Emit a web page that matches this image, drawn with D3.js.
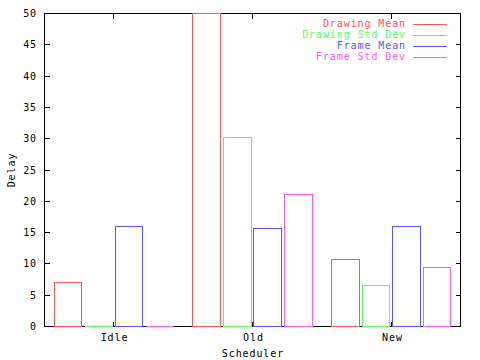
<!DOCTYPE html>
<html><head><meta charset="utf-8">
<script src="https://cdn.jsdelivr.net/npm/d3@7"></script>
<style>
body{margin:0;background:#fff;}
svg text{font-family:"DejaVu Sans Mono",monospace;font-size:10px;letter-spacing:0.9px;}
</style></head>
<body><svg id="c" width="480" height="360"></svg>
<script>
const categories = ["Idle", "Old", "New"];
const seriesNames = ["Drawing Mean", "Drawing Std Dev", "Frame Mean", "Frame Std Dev"];
const seriesColors = ["#ff5555", "#55ff55", "#5555ff", "#ff55ff"];
const drawingMean = [7.0, 50, 10.7];
const drawingStd = [0, 30.2, 6.55];
const frameMean = [16.0, 15.65, 16.0];
const frameStd = [0, 21.1, 9.4];
const yTicks = [0, 5, 10, 15, 20, 25, 30, 35, 40, 45, 50];
const series = [drawingMean, drawingStd, frameMean, frameStd];

const svg = d3.select("#c");
const L = 44, R = 460, T = 13, B = 326;
const x = d3.scaleLinear().domain([-0.5, categories.length - 0.5]).range([L, R]);
const y = d3.scaleLinear().domain([0, 50]).range([B, T]);

const slot = 0.22, bw = 0.2;
const g = svg.append("g").attr("shape-rendering", "crispEdges");

const bl = Math.round(L) + 0.5, br = Math.round(R) + 0.5, bt = Math.round(T) + 0.5, bb = Math.round(B) + 0.5;

// border
g.append("rect").attr("x", bl).attr("y", bt).attr("width", br - bl).attr("height", bb - bt)
  .attr("stroke", "#000").attr("fill", "none");

// y ticks
yTicks.forEach(t => {
  const yy = Math.round(y(t)) + 0.5;
  g.append("line").attr("x1", bl).attr("x2", bl + 5).attr("y1", yy).attr("y2", yy).attr("stroke", "#000");
  g.append("line").attr("x1", br - 5).attr("x2", br).attr("y1", yy).attr("y2", yy).attr("stroke", "#000");
  svg.append("text").attr("x", 37).attr("y", yy + 3.5).attr("text-anchor", "end").text(t);
});

// x ticks
categories.forEach((cat, i) => {
  const xx = Math.round(x(i)) + 0.5;
  g.append("line").attr("x1", xx).attr("x2", xx).attr("y1", bb).attr("y2", bb - 5).attr("stroke", "#000");
  g.append("line").attr("x1", xx).attr("x2", xx).attr("y1", bt).attr("y2", bt + 5).attr("stroke", "#000");
  svg.append("text").attr("x", xx + 1).attr("y", 341).attr("text-anchor", "middle").text(cat);
});

// bars
series.forEach((vals, si) => {
  vals.forEach((v, ci) => {
    const c = ci + (si - 1.5) * slot;
    const x0 = Math.round(x(c - bw / 2)) + 0.5;
    const x1 = Math.round(x(c + bw / 2)) + 0.5;
    const y0 = Math.round(y(0)) + 0.5;
    const yt = Math.round(y(Math.min(v, 50))) + 0.5;
    g.append("path")
      .attr("d", `M${x0},${y0}L${x0},${yt}L${x1},${yt}L${x1},${y0}Z`)
      .attr("fill", "none").attr("stroke", seriesColors[si]).attr("stroke-width", 1);
  });
});

// axis titles
svg.append("text").attr("x", 253).attr("y", 357).attr("text-anchor", "middle").text("Scheduler");
svg.append("text").attr("transform", "translate(15,170) rotate(-90)").attr("text-anchor", "middle").text("Delay");

// legend
seriesNames.forEach((n, i) => {
  const ly = 23.5 + i * 11;
  svg.append("text").attr("x", 406).attr("y", ly + 3.5).attr("text-anchor", "end").attr("fill", seriesColors[i]).text(n);
  g.append("line").attr("x1", 413).attr("x2", 447).attr("y1", Math.round(ly) + 0.5).attr("y2", Math.round(ly) + 0.5).attr("stroke", seriesColors[i]);
});
</script></body></html>
